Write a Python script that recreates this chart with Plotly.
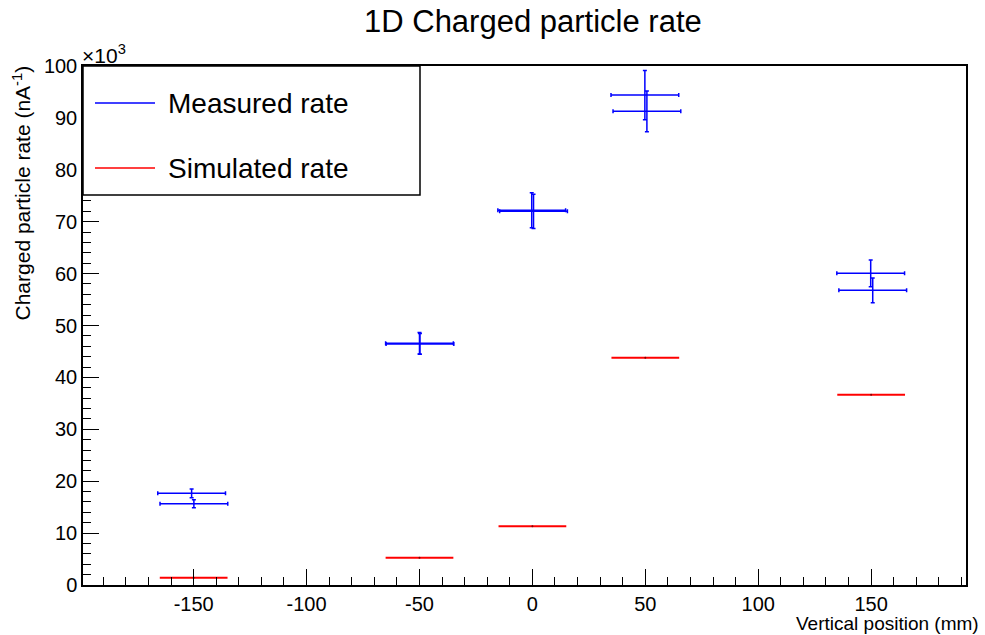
import plotly.graph_objects as go

# Measured rate, run A (upper points)
meas_a_x = [-150.9, -50.0, -0.3, 49.8, 149.8]
meas_a_y = [17670, 46570, 72200, 94400, 60060]
meas_a_ey = [840, 2080, 3370, 4750, 2570]
# Measured rate, run B (lower points)
meas_b_x = [-149.9, -49.8, 0.5, 50.7, 150.7]
meas_b_y = [15660, 46450, 72000, 91270, 56780]
meas_b_ey = [770, 2000, 3300, 3920, 2380]
meas_ex = [15, 15, 15, 15, 15]

# Simulated rate
sim_x = [-150, -50, 0, 50, 150]
sim_y = [1410, 5270, 11300, 43800, 36670]
sim_ex = [15, 15, 15, 15, 15]

y_tickvals = [0, 10000, 20000, 30000, 40000, 50000, 60000, 70000, 80000, 90000, 100000]
y_ticktext = ["0", "10", "20", "30", "40", "50", "60", "70", "80", "90", "100"]
x_tickvals = [-150, -100, -50, 0, 50, 100, 150]
x_ticktext = ["-150", "-100", "-50", "0", "50", "100", "150"]

FONT = "Liberation Sans, Arial, sans-serif"
BLUE = "#0000ff"
RED = "#ff0000"

fig = go.Figure()

fig.add_trace(go.Scatter(
    x=sim_x, y=sim_y, mode="markers", name="Simulated rate",
    marker=dict(size=2, color="#800000"),
    error_x=dict(type="data", array=sim_ex, color=RED, thickness=2, width=0),
    showlegend=False,
))
for xs, ys, eys in [(meas_a_x, meas_a_y, meas_a_ey), (meas_b_x, meas_b_y, meas_b_ey)]:
    fig.add_trace(go.Scatter(
        x=xs, y=ys, mode="markers", name="Measured rate",
        marker=dict(size=1, color=BLUE),
        error_x=dict(type="data", array=meas_ex, color=BLUE, thickness=1.5, width=2),
        error_y=dict(type="data", array=eys, color=BLUE, thickness=1.5, width=2),
        showlegend=False,
    ))

W, H = 985, 635
L, T, R, B = 83, 66, 19, 50
pw, ph = W - L - R, H - T - B

def px(xp):
    return (xp - L) / pw

def py(yp):
    return (H - B - yp) / ph

shapes = [
    dict(type="rect", xref="paper", yref="paper", x0=px(83), x1=px(420), y0=py(195), y1=py(66),
         line=dict(color="black", width=1.5), fillcolor="white", layer="above"),
    dict(type="line", xref="paper", yref="paper", x0=px(95), x1=px(155), y0=py(103), y1=py(103),
         line=dict(color=BLUE, width=1.5), layer="above"),
    dict(type="line", xref="paper", yref="paper", x0=px(95), x1=px(155), y0=py(168), y1=py(168),
         line=dict(color=RED, width=1.5), layer="above"),
]

annotations = [
    dict(text="Measured rate", xref="paper", yref="paper", x=px(166), y=py(103),
         xanchor="left", yanchor="middle", showarrow=False, font=dict(size=28, color="black", family=FONT)),
    dict(text="Simulated rate", xref="paper", yref="paper", x=px(166), y=py(168),
         xanchor="left", yanchor="middle", showarrow=False, font=dict(size=28, color="black", family=FONT)),
    dict(text="1D Charged particle rate", xref="paper", yref="paper", x=px(533), y=py(22),
         xanchor="center", yanchor="middle", showarrow=False, font=dict(size=31, color="black", family=FONT)),
    dict(text="Vertical position (mm)", xref="paper", yref="paper", x=px(981), y=py(623),
         xanchor="right", yanchor="middle", showarrow=False, font=dict(size=19, color="black", family=FONT)),
    dict(text="Charged particle rate (nA<sup>-1</sup>)", xref="paper", yref="paper", x=px(22), y=py(64),
         xanchor="center", yanchor="top", textangle=-90, showarrow=False,
         font=dict(size=21, color="black", family=FONT)),
    dict(text="×10<sup>3</sup>", xref="paper", yref="paper", x=px(80), y=py(54),
         xanchor="left", yanchor="middle", showarrow=False, font=dict(size=21, color="black", family=FONT)),
]

fig.update_layout(
    width=W, height=H,
    margin=dict(l=L, r=R, t=T, b=B, pad=0),
    paper_bgcolor="white", plot_bgcolor="white",
    font=dict(family=FONT, size=20, color="black"),
    shapes=shapes, annotations=annotations,
    showlegend=False,
)
fig.update_xaxes(
    range=[-199, 192], tickvals=x_tickvals, ticktext=x_ticktext, ticks="inside", ticklen=16, tickwidth=1,
    tickcolor="black",
    minor=dict(dtick=10, tick0=0, ticks="inside", ticklen=8, tickcolor="black", showgrid=False),
    showline=True, linecolor="black", linewidth=1.5, mirror=True, showgrid=False, zeroline=False,
    tickfont=dict(size=20, family=FONT), ticklabelstandoff=0,
)
fig.update_yaxes(
    range=[0, 100000], tickvals=y_tickvals, ticktext=y_ticktext, ticks="inside", ticklen=16, tickwidth=1,
    tickcolor="black",
    minor=dict(dtick=2000, tick0=0, ticks="inside", ticklen=8, tickcolor="black", showgrid=False),
    showline=True, linecolor="black", linewidth=1.5, mirror=True, showgrid=False, zeroline=False,
    tickfont=dict(size=20, family=FONT),
)

fig.write_html("out.html", config={"displayModeBar": False},
               post_script="document.body.style.margin='0px';")
